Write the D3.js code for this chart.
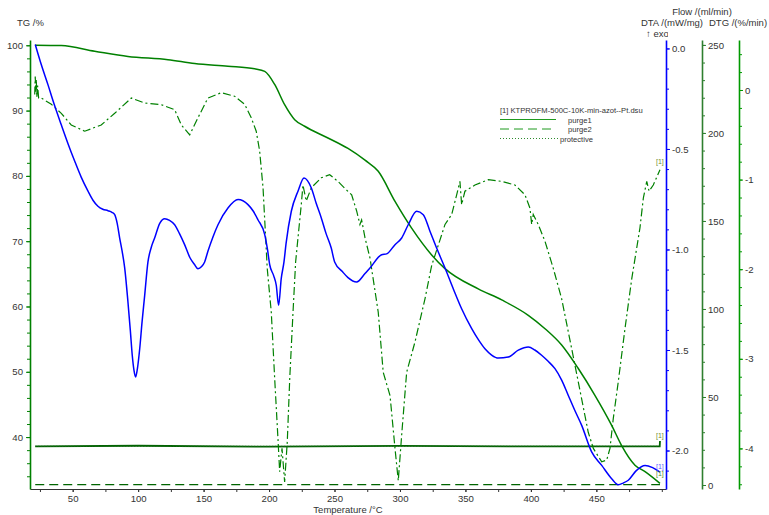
<!DOCTYPE html>
<html lang="en">
<head>
<meta charset="UTF-8">
<script src="https://cdn.jsdelivr.net/npm/d3@7"></script>
<title>KTPROFM TG / DTA / DTG</title>
<style>
  body { margin: 0; background: #fff; }
  svg { font-family: 'Liberation Sans', Arial, sans-serif; }
</style>
</head>
<body>
<div id="wrapper"></div>
<script>
// [temperature °C, value]
const tgData = [[21.4,100.0],[41.3,99.95],[66.8,99.1],[92.2,98.3],[122.8,97.8],[143.2,97.2],[168.6,96.8],[189.0,96.4],[196.7,96.0],[204.3,94.0],[211.9,90.9],[219.6,88.6],[227.2,87.6],[245.0,85.8],[260.3,84.2],[273.3,82.4],[283.4,80.7],[296.2,76.1],[308.9,72.0],[324.2,67.9],[334.4,65.8],[359.8,62.7],[377.7,61.0],[398.0,58.65],[410.8,56.6],[423.5,54.1],[436.2,50.5],[448.9,46.4],[461.7,41.8],[469.3,38.7],[479.5,35.7],[487.2,34.7],[498.6,32.9]];

const dtaData = [[21.4,0.02],[26.0,-0.08],[31.1,-0.18],[36.0,-0.28],[41.3,-0.38],[46.5,-0.475],[51.5,-0.56],[56.5,-0.64],[61.7,-0.71],[65.5,-0.755],[69.3,-0.785],[73.0,-0.80],[77.0,-0.807],[80.0,-0.815],[82.1,-0.827],[84.0,-0.87],[85.9,-0.943],[87.8,-1.01],[89.7,-1.09],[92.2,-1.26],[94.0,-1.40],[95.5,-1.526],[96.8,-1.60],[98.1,-1.634],[99.5,-1.59],[101.2,-1.494],[103.0,-1.36],[105.0,-1.228],[107.5,-1.062],[110.0,-0.99],[112.6,-0.943],[116.5,-0.87],[120.3,-0.847],[124.0,-0.855],[127.9,-0.877],[131.5,-0.92],[135.5,-0.976],[139.5,-1.04],[143.2,-1.076],[145.7,-1.096],[148.5,-1.085],[150.8,-1.062],[153.3,-1.009],[157.0,-0.94],[161.0,-0.877],[168.6,-0.794],[176.3,-0.752],[183.9,-0.777],[188.0,-0.81],[191.5,-0.852],[196.7,-0.926],[198.8,-1.00],[200.5,-1.076],[203.5,-1.13],[205.5,-1.178],[207.3,-1.278],[209.3,-1.145],[211.4,-1.062],[213.0,-0.97],[217.0,-0.810],[222.1,-0.710],[226.7,-0.644],[232.3,-0.694],[236.0,-0.77],[239.9,-0.843],[243.5,-0.92],[247.5,-0.993],[250.1,-1.062],[256.0,-1.11],[260.3,-1.14],[266.9,-1.162],[273.3,-1.120],[277.1,-1.092],[286.0,-1.026],[289.8,-1.022],[296.2,-0.976],[301.3,-0.943],[306.3,-0.877],[312.8,-0.810],[317.8,-0.827],[322.9,-0.909],[328.0,-0.993],[334.4,-1.092],[341.0,-1.20],[347.1,-1.295],[354.8,-1.394],[360.0,-1.45],[364.9,-1.494],[370.0,-1.525],[375.1,-1.540],[382.7,-1.535],[390.4,-1.501],[398.0,-1.485],[403.0,-1.50],[408.2,-1.526],[413.0,-1.555],[418.4,-1.593],[423.5,-1.65],[428.5,-1.725],[433.5,-1.80],[438.8,-1.875],[446.4,-2.007],[454.1,-2.074],[461.7,-2.140],[466.7,-2.170],[470.5,-2.162],[474.4,-2.148],[480.5,-2.10],[487.2,-2.074],[493.0,-2.085],[498.6,-2.107]];

const dtgData = [[21.0,-0.05],[21.4,0.15],[21.8,-0.02],[22.2,0.12],[22.6,-0.08],[23.2,0.05],[24.0,-0.09],[26.0,-0.09],[33.7,-0.16],[41.3,-0.26],[48.9,-0.39],[59.2,-0.46],[71.8,-0.39],[82.1,-0.26],[94.8,-0.09],[105.0,-0.145],[117.7,-0.164],[127.9,-0.22],[133.0,-0.39],[139.4,-0.50],[145.7,-0.31],[153.3,-0.09],[163.5,-0.03],[173.7,-0.07],[181.4,-0.16],[186.4,-0.31],[190.2,-0.46],[192.8,-0.68],[195.4,-1.09],[197.4,-1.65],[198.6,-1.99],[201.7,-2.48],[204.3,-3.22],[206.8,-3.89],[208.1,-4.26],[209.9,-4.00],[211.9,-4.375],[213.9,-3.93],[215.8,-3.22],[218.3,-2.48],[220.3,-1.92],[222.1,-1.65],[224.6,-1.28],[225.9,-1.06],[228.4,-1.24],[232.3,-1.09],[239.9,-0.98],[246.3,-0.945],[252.6,-1.02],[258.0,-1.10],[263.1,-1.17],[266.9,-1.35],[269.4,-1.50],[270.7,-1.45],[273.3,-1.65],[277.1,-1.875],[283.4,-2.48],[287.2,-3.15],[292.4,-3.41],[296.2,-4.00],[298.7,-4.36],[301.3,-3.85],[305.1,-3.15],[311.5,-2.81],[319.1,-2.33],[324.2,-1.96],[329.3,-1.73],[334.4,-1.50],[339.5,-1.39],[343.3,-1.17],[345.8,-1.02],[347.1,-1.28],[349.6,-1.13],[357.3,-1.06],[367.5,-1.00],[377.7,-1.02],[387.8,-1.06],[395.5,-1.17],[399.3,-1.32],[400.6,-1.50],[401.8,-1.39],[405.6,-1.50],[410.8,-1.69],[417.1,-1.99],[423.5,-2.33],[431.2,-2.89],[438.8,-3.45],[443.8,-3.82],[447.7,-4.00],[454.1,-4.15],[457.9,-4.13],[460.4,-4.00],[462.9,-3.67],[466.7,-3.26],[471.9,-2.66],[477.0,-2.11],[483.3,-1.54],[485.9,-1.205],[488.5,-1.02],[490.3,-1.13],[493.5,-1.06],[498.6,-0.89]];

const flowPurge1 = [[21.4,22.0],[100,22.3],[200,21.8],[300,22.2],[400,21.9],[498.4,22.0],[498.6,25.0]];
const flowPurge2 = [[21.4,0.2],[498.6,0.2]];
const flowProtective = [[21.4,22.0],[498.4,22.0]];

const tempTicks = [50,100,150,200,250,300,350,400,450];
const tgTicks = [40,50,60,70,80,90,100];
const dtaTicks = [0,-0.5,-1,-1.5,-2];
const flowTicks = [0,50,100,150,200,250];
const dtgTicks = [0,-1,-2,-3,-4];

const legendTitle = "[1] KTPROFM-500C-10K-min-azot--Pt.dsu";
const legendNames = ["purge1","purge2","protective"];

drawChart();

function drawChart(){
   const dimensions = { width: 769, height: 515, left: 30, right: 666, top: 40, bottom: 489 };

   const svg = d3.select("#wrapper").append("svg")
      .attr("width", dimensions.width)
      .attr("height", dimensions.height);

   const xScale = d3.scaleLinear().domain([17.4, 503.2]).range([dimensions.left, dimensions.right]);
   const tgScale = d3.scaleLinear().domain([32.05, 100.81]).range([dimensions.bottom, dimensions.top]);
   const dtaScale = d3.scaleLinear().domain([-2.1915, 0.042]).range([dimensions.bottom, dimensions.top]);
   const flowScale = d3.scaleLinear().domain([-2.27, 252.8]).range([dimensions.bottom, dimensions.top]);
   const dtgScale = d3.scaleLinear().domain([-4.453, 0.558]).range([dimensions.bottom, dimensions.top]);

   const green = "#008000";
   const flowGreen = "#006400";

   // curves
   function drawLine(data, yScale, color, width, dash, curve){
      const line = d3.line().x(d => xScale(d[0])).y(d => yScale(d[1]));
      if (curve) line.curve(curve);
      svg.append("path")
         .datum(data)
         .attr("d", line)
         .attr("fill", "none")
         .attr("stroke", color)
         .attr("stroke-width", width)
         .attr("stroke-dasharray", dash || null);
   }

   drawLine(flowPurge2, flowScale, flowGreen, 1.3, "9,5");
   drawLine(flowPurge1, flowScale, flowGreen, 1.8);
   drawLine(flowProtective, flowScale, "#1f5f1f", 1, "1,2");
   drawLine(dtgData, dtgScale, green, 1.2, "8,3,2,3");
   drawLine(tgData, tgScale, green, 1.5, null, d3.curveMonotoneX);
   drawLine(dtaData, dtaScale, "#0000ff", 1.5, null, d3.curveMonotoneX);

   // axes
   const tickFont = "9.6px";
   function styleAxis(g, color){
      g.select(".domain").attr("stroke", color).attr("stroke-width", 1.6);
      g.selectAll(".tick line").attr("stroke", color);
      g.selectAll(".tick text").attr("fill", "#333").style("font-size", tickFont);
   }

   function minorAxis(axis, pos, values, color){
      const g = svg.append("g")
         .attr("transform", pos)
         .call(axis.tickValues(values).tickSize(3).tickSizeOuter(0).tickFormat(""));
      g.select(".domain").remove();
      g.selectAll(".tick line").attr("stroke", color);
   }

   // bottom temperature axis
   minorAxis(d3.axisBottom(xScale), `translate(0,${dimensions.bottom})`, d3.range(25, 501, 25), "#333");
   const xAxis = svg.append("g")
      .attr("transform", `translate(0,${dimensions.bottom})`)
      .call(d3.axisBottom(xScale).tickValues(tempTicks).tickSize(3).tickSizeOuter(0).tickPadding(3).tickFormat(d => d));
   styleAxis(xAxis, "#333");
   xAxis.select(".domain").attr("stroke-width", 1);

   // TG axis
   minorAxis(d3.axisLeft(tgScale), `translate(${dimensions.left},0)`, d3.range(34, 101, 2), green);
   const tgAxis = svg.append("g")
      .attr("transform", `translate(${dimensions.left},0)`)
      .call(d3.axisLeft(tgScale).tickValues(tgTicks).tickSize(4).tickSizeOuter(0).tickPadding(3).tickFormat(d => d));
   styleAxis(tgAxis, green);

   // DTA axis
   minorAxis(d3.axisRight(dtaScale), `translate(${dimensions.right},0)`, d3.range(-21, 1).map(d => d / 10), "#0000ff");
   const dtaAxis = svg.append("g")
      .attr("transform", `translate(${dimensions.right},0)`)
      .call(d3.axisRight(dtaScale).tickValues(dtaTicks).tickSize(4).tickSizeOuter(0).tickPadding(2).tickFormat(d => d.toFixed(1)));
   styleAxis(dtaAxis, "#0000ff");

   // Flow axis
   minorAxis(d3.axisRight(flowScale), "translate(702,0)", d3.range(0, 251, 10), "#2f7f2f");
   const flowAxis = svg.append("g")
      .attr("transform", "translate(702,0)")
      .call(d3.axisRight(flowScale).tickValues(flowTicks).tickSize(4).tickSizeOuter(0).tickPadding(2).tickFormat(d => d));
   styleAxis(flowAxis, "#2f7f2f");

   // DTG axis
   minorAxis(d3.axisRight(dtgScale), "translate(739,0)", d3.range(-22, 3).map(d => d / 5), "#009900");
   const dtgAxis = svg.append("g")
      .attr("transform", "translate(739,0)")
      .call(d3.axisRight(dtgScale).tickValues(dtgTicks).tickSize(4).tickSizeOuter(0).tickPadding(2).tickFormat(d => String(d)));
   styleAxis(dtgAxis, "#009900");

   // axis titles
   const titles = svg.append("g").attr("fill", "#333").style("font-size", "9.5px");
   titles.append("text").attr("x", 17).attr("y", 26).text("TG /%");
   titles.append("text").attr("x", 702).attr("y", 15).attr("text-anchor", "middle").text("Flow /(ml/min)");
   titles.append("text").attr("x", 703).attr("y", 26).attr("text-anchor", "end").text("DTA /(mW/mg)");
   titles.append("text").attr("x", 709).attr("y", 26).text("DTG /(%/min)");
   titles.append("text").attr("x", 348).attr("y", 513).attr("text-anchor", "middle").text("Temperature /°C");

   svg.append("clipPath").attr("id", "exoClip")
      .append("rect").attr("x", 600).attr("y", 0).attr("width", 68).attr("height", 40);
   titles.append("text").attr("x", 646).attr("y", 37)
      .attr("clip-path", "url(#exoClip)")
      .text("↑ exo");

   // end labels
   const endLabels = [
      [dtgData, dtgScale, "#6f8f2f", -6],
      [flowPurge1, flowScale, "#6f8f2f", -3],
      [dtaData, dtaScale, "#5a5aff", -3],
      [tgData, tgScale, "#4f8f2f", -7]
   ];
   endLabels.forEach(([data, yScale, color, dy]) => {
      const last = data[data.length - 1];
      svg.append("text")
         .attr("x", xScale(last[0]) - 4)
         .attr("y", yScale(last[1]) + dy)
         .attr("fill", color)
         .style("font-size", "7px")
         .text("[1]");
   });

   // legend
   const legend = svg.append("g").attr("transform", "translate(500,0)");
   legend.append("text").attr("x", 0).attr("y", 113)
      .attr("fill", "#333").style("font-size", "7.6px")
      .text(legendTitle);
   const legendDash = [null, "9,5", "1,2"];
   legendNames.forEach((name, i) => {
      const y = 119.5 + i * 9.5;
      legend.append("line")
         .attr("x1", 0).attr("x2", i === 2 ? 58 : 56)
         .attr("y1", y).attr("y2", y)
         .attr("stroke", i === 2 ? "#2e8b2e" : "#1f9a1f")
         .attr("stroke-width", 1)
         .attr("stroke-dasharray", legendDash[i]);
      legend.append("text")
         .attr("x", i === 2 ? 60 : 68).attr("y", y + 3)
         .attr("fill", "#333").style("font-size", "7.6px")
         .text(name);
   });
}
</script>
</body>
</html>
